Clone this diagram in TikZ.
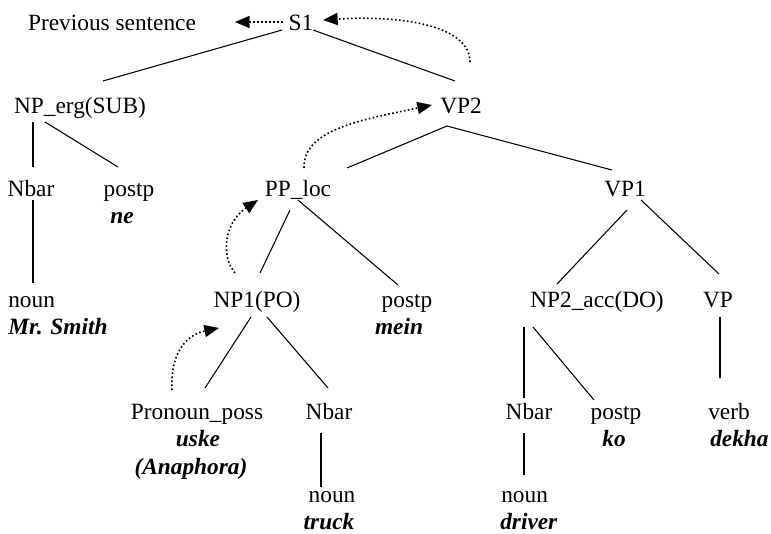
\documentclass[tikz,border=0pt]{standalone}
\usepackage{fontspec}
\setmainfont{Liberation Serif}
\usetikzlibrary{arrows.meta,calc}
\begin{document}
\begin{tikzpicture}[
    x = 0.75pt,
    y = -0.75pt,
    >={Triangle[length=11pt,width=9pt]},
    cat/.style = {anchor=base, inner sep=0pt,
              font=\fontsize{17.5}{21}\selectfont},
    word/.style = {cat, font=\fontsize{17.5}{21}\selectfont\bfseries\itshape},
    branch/.style = {black, line width=0.8pt},
    coref/.style = {black, line width=1.2pt, dash pattern=on 1.2pt off 1.8pt, ->},
    ]

\useasboundingbox (0,0) rectangle (771,533);

% categories
\node[cat] (prev_sent) at (112,30) {Previous sentence};
\node[cat] (s1) at (301,30) {S1};
\node[cat] (np_erg) at (80,113) {NP\_erg(SUB)};
\node[cat] (vp2) at (461,113) {VP2};
\node[cat] (nbar_1) at (31,196) {Nbar};
\node[cat] (postp_1) at (129,196) {postp};
\node[cat] (pp_loc) at (298,196) {PP\_loc};
\node[cat] (vp1) at (625,196) {VP1};
\node[cat, anchor=base west] (noun_1) at (8,307) {noun};
\node[cat] (np1) at (257,307) {NP1(PO)};
\node[cat] (postp_2) at (407,307) {postp};
\node[cat] (np2) at (597,307) {NP2\_acc(DO)};
\node[cat] (vp) at (718,307) {VP};
\node[cat] (pron_poss) at (197,419) {Pronoun\_poss};
\node[cat] (nbar_2) at (329,419) {Nbar};
\node[cat] (nbar_3) at (529,419) {Nbar};
\node[cat] (postp_3) at (616,419) {postp};
\node[cat, anchor=base west] (verb) at (708,419) {verb};
\node[cat] (noun_2) at (332,502) {noun};
\node[cat, anchor=base west] (noun_3) at (501,502) {noun};

% words
\node[word] (w_ne) at (122,223) {ne};
\node[word, anchor=base west] (w_smith) at (8,334) {Mr. Smith};
\node[word] (w_mein) at (399,334) {mein};
\node[word] (w_uske) at (198,446) {uske};
\node[word] (w_anaphora) at (191,474) {(Anaphora)};
\node[word] (w_ko) at (614,446) {ko};
\node[word, anchor=base west] (w_dekha) at (710,446) {dekha};
\node[word] (w_truck) at (329,529) {truck};
\node[word, anchor=base west] (w_driver) at (500,529) {driver};

% branches
\draw [branch] ($(s1.base)+(-19,0)$) -- ($(np_erg.base)+(23,-32)$);
\draw [branch] ($(s1.base)+(12,0)$) -- ($(vp2.base)+(-6,-32)$);
\draw [branch] ($(np_erg.base)+(-47,9)$) -- ($(nbar_1.base)+(2,-29)$);
\draw [branch] ($(np_erg.base)+(-35,9)$) -- ($(postp_1.base)+(-11,-29)$);
\draw [branch] ($(nbar_1.base)+(2,4)$) -- ($(noun_1.base west)+(25,-24)$);
\draw [branch] ($(vp2.base)+(-14,13)$) -- ($(pp_loc.base)+(49,-28)$);
\draw [branch] ($(vp2.base)+(-14,13)$) -- ($(vp1.base)+(-13,-26)$);
\draw [branch] ($(pp_loc.base)+(-8,14)$) -- ($(np1.base)+(3,-34)$);
\draw [branch] ($(pp_loc.base)+(0,4)$) -- ($(postp_2.base)+(-9,-22)$);
\draw [branch] ($(vp1.base)+(2,14)$) -- ($(np2.base)+(-40,-23)$);
\draw [branch] ($(vp1.base)+(16,4)$) -- ($(vp.base)+(1,-33)$);
\draw [branch] ($(np1.base)+(-6,10)$) -- ($(pron_poss.base)+(8,-31)$);
\draw [branch] ($(np1.base)+(10,10)$) -- ($(nbar_2.base)+(-1,-31)$);
\draw [branch] ($(nbar_2.base)+(-8,14)$) -- ($(noun_2.base)+(-11,-15)$);
\draw [branch] ($(np2.base)+(-73,20)$) -- ($(nbar_3.base)+(-5,-21)$);
\draw [branch] ($(np2.base)+(-64,20)$) -- ($(postp_3.base)+(-22,-19)$);
\draw [branch] ($(nbar_3.base)+(-5,14)$) -- ($(noun_3.base west)+(23,-27)$);
\draw [branch] ($(vp.base)+(2,10)$) -- ($(verb.base west)+(12,-41)$);

% coreference links
\draw [coref] ($(s1.base)+(-18,-8)$) -- ($(prev_sent.base)+(123,-8)$);
\draw [coref] ($(vp2.base)+(9,-51)$) .. controls +(0,-37) and +(77,-5) .. ($(s1.base)+(22,-10)$);
\draw [coref] ($(pp_loc.base)+(6,-28)$) .. controls +(-1,-38) and +(-72,15) .. ($(vp2.base)+(-29,-8)$);
\draw [coref] ($(np1.base)+(-22,-34)$) .. controls +(-15,-18) and +(-33,22) .. ($(pp_loc.base)+(-40,4)$);
\draw [coref] ($(pron_poss.base)+(-25,-29)$) .. controls +(-2,-35) and +(-34,7) .. ($(np1.base)+(-38,21)$);

\end{tikzpicture}
\end{document}
